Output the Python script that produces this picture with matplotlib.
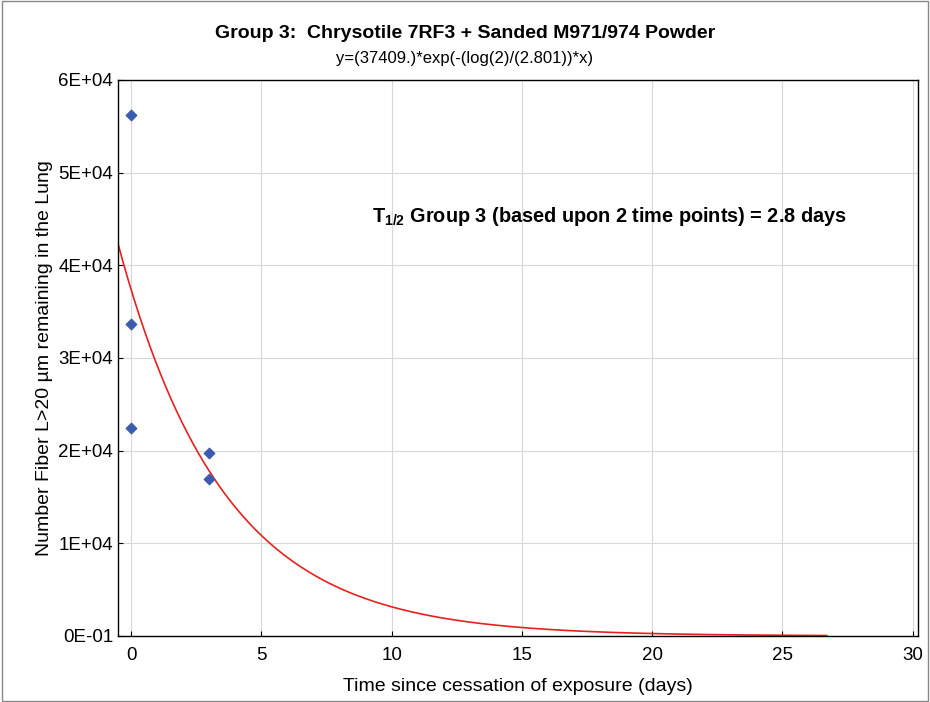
import numpy as np
import matplotlib
matplotlib.use("Agg")
import matplotlib.pyplot as plt

plt.rcParams['font.family'] = ['Liberation Sans', 'DejaVu Sans']
plt.rcParams['mathtext.fontset'] = 'custom'
plt.rcParams['mathtext.rm'] = 'Liberation Sans'
plt.rcParams['mathtext.bf'] = 'Liberation Sans:bold'

pt_x = [0, 0, 0, 3, 3]
pt_y = [56200, 33700, 22500, 19700, 16900]
a0 = 37409.0
half = 2.801
xticks = [0, 5, 10, 15, 20, 25, 30]
yticks = [0, 10000, 20000, 30000, 40000, 50000, 60000]
ylabels = ["0E-01", "1E+04", "2E+04", "3E+04", "4E+04", "5E+04", "6E+04"]

fig = plt.figure(figsize=(9.3, 7.02), dpi=100)
ax = fig.add_axes([118/930, 1-636/702, (918-118)/930, (636-80)/702])
fig.patches.append(plt.Rectangle((0.002, 0.002), 0.996, 0.996, transform=fig.transFigure,
                                 fill=False, edgecolor='#888888', lw=1))

xc = np.linspace(-0.5, 26.7, 400)
ax.plot(xc, a0*np.exp(-(np.log(2)/half)*xc), color='#e8201e', lw=1.2)
ax.scatter(pt_x, pt_y, marker='D', s=28, color='#3a5bb0', zorder=3)

ax.set_xlim(-0.5, 30.2)
ax.set_ylim(0, 60000)
ax.set_xticks(xticks)
ax.set_yticks(yticks)
ax.set_yticklabels(ylabels)
ax.grid(True, color='#d8d8d8', lw=0.8)
ax.tick_params(labelsize=13.5, direction='in')
ax.tick_params(axis='x', pad=8)
for s in ax.spines.values():
    s.set_linewidth(1.0)
ax.set_xlabel("Time since cessation of exposure (days)", fontsize=14, labelpad=10)
ax.set_ylabel("Number Fiber L>20 µm remaining in the Lung", fontsize=14)
fig.text(0.5, 1-33/702, "Group 3:  Chrysotile 7RF3 + Sanded M971/974 Powder", ha='center', va='center',
         fontsize=14, fontweight='bold')
fig.text(0.5, 1-58/702, "y=(37409.)*exp(-(log(2)/(2.801))*x)", ha='center', va='center', fontsize=12)
ax.text(0.317, 0.755, r"T$_{\mathbf{1/2}}$ Group 3 (based upon 2 time points) = 2.8 days",
        transform=ax.transAxes, fontsize=14.3, fontweight='bold', va='center')
fig.savefig("out.png", dpi=100)
